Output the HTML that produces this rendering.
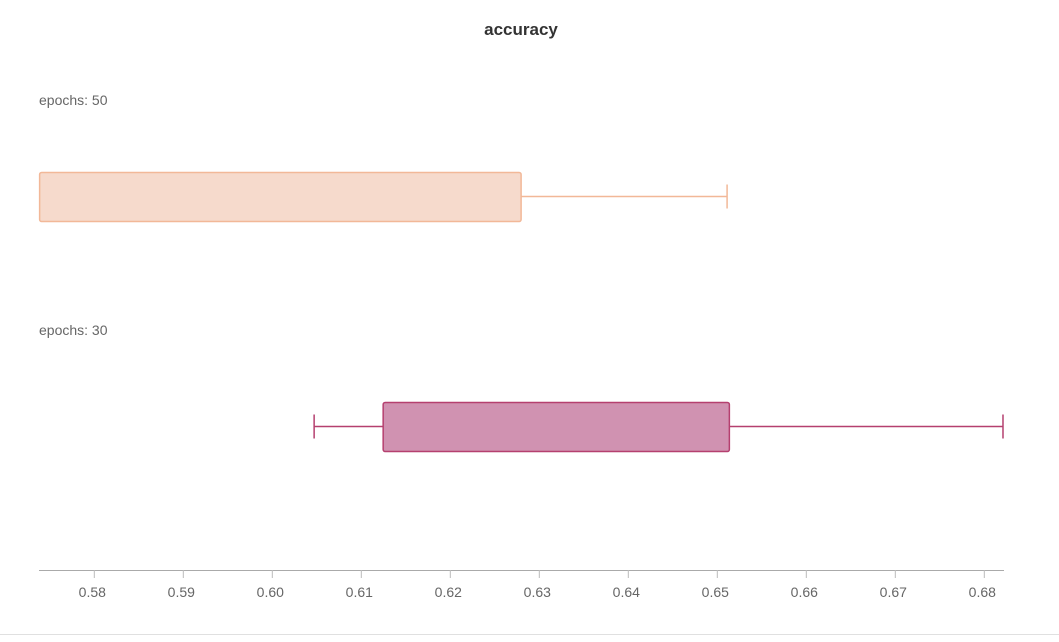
<!DOCTYPE html>
<html><head><meta charset="utf-8"><style>
html,body{margin:0;padding:0;background:#fff;}
body{width:1059px;height:637px;overflow:hidden;font-family:"Liberation Sans",sans-serif;}
</style></head><body>
<svg id="chart" width="1059" height="637" xmlns="http://www.w3.org/2000/svg">
<text x="521" y="35" text-anchor="middle" font-size="17" font-weight="bold" fill="#333">accuracy</text>
<line x1="0" y1="634.5" x2="1059" y2="634.5" stroke="#e0e0e0" stroke-width="1"/>
<g id="plot"></g>
</svg>
<script>
const categories = ["epochs: 50", "epochs: 30"];
const mins = [0.5738, 0.6047];
const q1s = [0.5738, 0.6124];
const q3s = [0.6279, 0.6513];
const maxs = [0.6511, 0.6821];
const ticks = [0.58,0.59,0.60,0.61,0.62,0.63,0.64,0.65,0.66,0.67,0.68];
const tickLabels = ["0.58","0.59","0.60","0.61","0.62","0.63","0.64","0.65","0.66","0.67","0.68"];

const fills = ["#f6dacc","#d092b1"];
const strokes = ["#f2b898","#b5406f"];
const ns = "http://www.w3.org/2000/svg";
const g = document.getElementById('plot');
const x = v => 94.3 + (v - 0.58) * 8900;
const labelY = [105, 335];
const boxTop = [172, 402];
const boxH = 49;
function el(t, a){const e=document.createElementNS(ns,t);for(const k in a)e.setAttribute(k,a[k]);g.appendChild(e);return e;}

const axis = el('line',{x1:39,y1:570.5,x2:1004,y2:570.5,stroke:'#aaa','stroke-width':1});


ticks.forEach((t,i)=>{
  const tk = el('line',{x1:x(t),y1:570,x2:x(t),y2:578,stroke:'#bbb','stroke-width':1});
  
  
  const tl = el('text',{x:x(t)-2,y:597,'text-anchor':'middle','font-size':'14',fill:'#666'});
  tl.textContent = tickLabels[i];
  
  
});

categories.forEach((c,i)=>{
  const lab = el('text',{x:39,y:labelY[i],'font-size':'14',fill:'#666'});
  lab.textContent = c;
  
  
  const cy = boxTop[i] + boxH/2;
  const wl = el('line',{x1:x(mins[i]),y1:cy,x2:x(q1s[i]),y2:cy,stroke:strokes[i],'stroke-width':1.5});
  
  
  const wh = el('line',{x1:x(q3s[i]),y1:cy,x2:x(maxs[i]),y2:cy,stroke:strokes[i],'stroke-width':1.5});
  
  
  if (x(q1s[i]) - x(mins[i]) > 1) {
    const cl = el('line',{x1:x(mins[i]),y1:cy-12,x2:x(mins[i]),y2:cy+12,stroke:strokes[i],'stroke-width':1.5});
    
    
  }
  const ch = el('line',{x1:x(maxs[i]),y1:cy-12,x2:x(maxs[i]),y2:cy+12,stroke:strokes[i],'stroke-width':1.5});
  
  
  const b = el('rect',{x:x(q1s[i])+0.5,y:boxTop[i]+0.5,width:x(q3s[i])-x(q1s[i]),height:boxH,rx:2,fill:fills[i],stroke:strokes[i],'stroke-width':1.5});
  
  
});
</script>
</body></html>
